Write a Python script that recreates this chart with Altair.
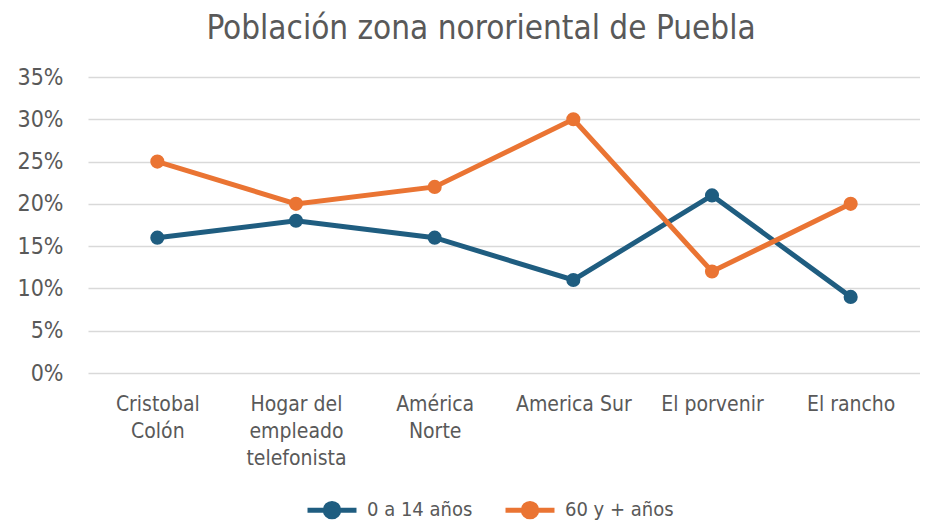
import altair as alt
import pandas as pd

categories = ["Cristobal Colón", "Hogar del empleado telefonista", "América Norte",
              "America Sur", "El porvenir", "El rancho"]
label_lines = [["Cristobal", "Colón"], ["Hogar del", "empleado", "telefonista"],
               ["América", "Norte"], ["America Sur"], ["El porvenir"], ["El rancho"]]
series = ["0 a 14 años", "60 y + años"]
young = [0.16, 0.18, 0.16, 0.11, 0.21, 0.09]
old = [0.25, 0.20, 0.22, 0.30, 0.12, 0.20]
colors = ["#1f5d80", "#ea7433"]
y_ticks = [0, 0.05, 0.10, 0.15, 0.20, 0.25, 0.30, 0.35]

rows = []
for s, vals in zip(series, [young, old]):
    for c, v in zip(categories, vals):
        rows.append({"zona": c, "serie": s, "valor": v})
df = pd.DataFrame(rows)

expr = "datum.label"
for c, lines in reversed(list(zip(categories, label_lines))):
    arr = "[" + ",".join("'" + l + "'" for l in lines) + "]"
    expr = f"datum.label == '{c}' ? {arr} : ({expr})"

FONT = "DejaVu Sans Condensed, Lato, sans-serif"
TXT = "#595959"

sym = "M-2,0L2,0M0.55,0A0.55,0.55,0,1,1,-0.55,0A0.55,0.55,0,1,1,0.55,0Z"

x = alt.X("zona:N", sort=categories, title=None,
          axis=alt.Axis(labelExpr=expr, labelAngle=0, labelFontSize=21, labelColor=TXT,
                        labelFont=FONT, labelLineHeight=27, labelPadding=20,
                        ticks=False, domain=False, labelBaseline="top"))
y = alt.Y("valor:Q", title=None, scale=alt.Scale(domain=[0, 0.35], nice=False),
          axis=alt.Axis(values=y_ticks, format=".0%", labelFontSize=23, labelColor=TXT,
                        labelFont=FONT, labelPadding=25, ticks=False, domain=False,
                        gridColor="#d9d9d9", gridWidth=1.5))
color = alt.Color("serie:N", sort=series,
                  scale=alt.Scale(domain=series, range=colors),
                  legend=alt.Legend(title=None, orient="none", direction="horizontal",
                                    legendX=229, legendY=418,
                                    symbolType=sym, symbolSize=600, symbolStrokeWidth=5,
                                    labelFontSize=20, labelColor=TXT, labelFont=FONT,
                                    columnPadding=22, labelOffset=20))

base = alt.Chart(df)
lines = base.mark_line(strokeWidth=5).encode(x=x, y=y, color=color)
points = base.mark_circle(size=200, opacity=1).encode(x=x, y=y, color=color)

chart = alt.layer(lines, points).properties(
    width=832, height=296,
    title=alt.TitleParams("Población zona nororiental de Puebla", fontSize=33,
                          font=FONT, color=TXT, fontWeight="normal", offset=20, dx=-23),
    autosize=alt.AutoSizeParams(type="none"),
    padding={"left": 80, "top": 69, "right": 0, "bottom": 150},
).configure_view(stroke=None)

chart.save("out.html", embed_options={"renderer": "svg", "actions": False})
